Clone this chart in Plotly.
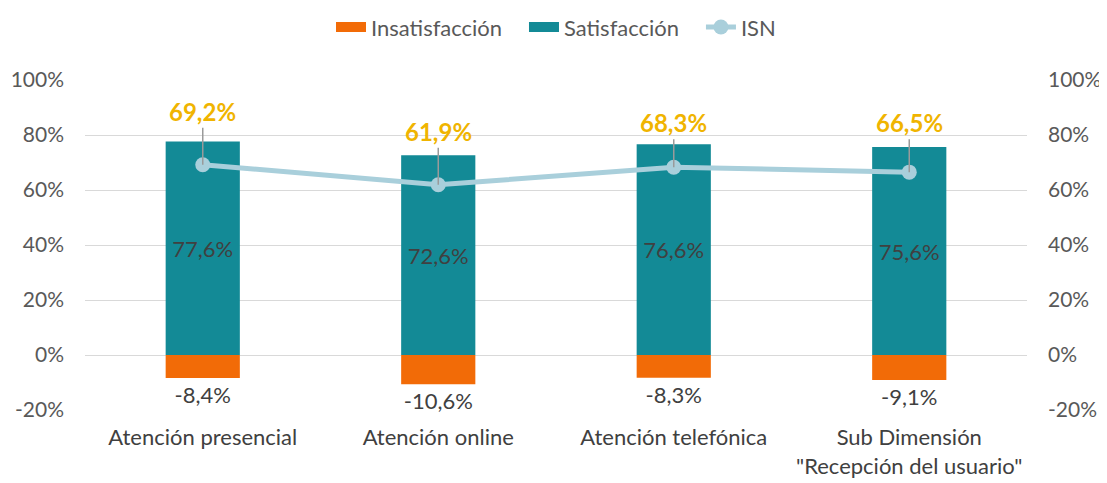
import plotly.graph_objects as go

categories = ["Atención presencial", "Atención online", "Atención telefónica",
              "Sub Dimensión<br>\"Recepción del usuario\""]
insatisfaccion = [-8.4, -10.6, -8.3, -9.1]
satisfaccion = [77.6, 72.6, 76.6, 75.6]
isn = [69.2, 61.9, 68.3, 66.5]
tick_vals = [-20, 0, 20, 40, 60, 80, 100]
tick_text = ["-20%", "0%", "20%", "40%", "60%", "80%", "100%"]

# label offsets (pixels) for ISN callouts
isn_label_offsets = [-37, -37, -28, -33]

FONT = "Lato"
ORANGE = "#F26B07"
TEAL = "#138A96"
LIGHT = "#A9CFDB"
GOLD = "#F0B400"
GREY_TXT = "#595959"
PAD = "\u00a0\u00a0\u00a0"

fig = go.Figure()
fig.add_trace(go.Bar(
    x=categories, y=insatisfaccion, name="Insatisfacción", showlegend=False,
    marker=dict(color=ORANGE, line=dict(width=0)), width=0.315,
    texttemplate="%{y:.1f}%", textposition="outside",
    textfont=dict(family=FONT, size=22, color="#404040"), cliponaxis=False,
))
fig.add_trace(go.Bar(
    x=categories, y=satisfaccion, name="Satisfacción", showlegend=False,
    marker=dict(color=TEAL, line=dict(width=0)), width=0.315,
    texttemplate="%{y:.1f}%", textposition="inside", insidetextanchor="middle",
    textfont=dict(family=FONT, size=22, color="#404040"),
))
fig.add_trace(go.Scatter(
    x=categories, y=isn, name="ISN", mode="lines+markers", showlegend=False,
    line=dict(color=LIGHT, width=5), marker=dict(color=LIGHT, size=15),
    yaxis="y2",
))
# legend entries
fig.add_trace(go.Scatter(x=[None], y=[None], name="Insatisfacción" + PAD, mode="lines",
                         line=dict(color=ORANGE, width=13)))
fig.add_trace(go.Scatter(x=[None], y=[None], name="Satisfacción" + PAD, mode="lines",
                         line=dict(color=TEAL, width=13)))
fig.add_trace(go.Scatter(x=[None], y=[None], name="ISN", mode="lines+markers",
                         line=dict(color=LIGHT, width=5), marker=dict(color=LIGHT, size=15)))

for c, v, off in zip(categories, isn, isn_label_offsets):
    fig.add_annotation(
        x=c, y=v, yref="y2", text=f"<b>{v:.1f}%</b>".replace(".", ","),
        showarrow=True, arrowhead=0, arrowwidth=1.5, arrowcolor="#9A9A9A",
        ax=0, ay=off, standoff=0, yanchor="bottom",
        font=dict(family=FONT, size=24, color=GOLD),
    )

axis_common = dict(range=[-20, 100], tickvals=tick_vals, ticktext=tick_text,
                   tickfont=dict(family=FONT, size=21, color=GREY_TXT),
                   zeroline=False, ticklabelstandoff=20)
fig.update_layout(
    width=1099, height=475,
    margin=dict(l=77, r=80, t=72, b=73, autoexpand=False),
    paper_bgcolor="white", plot_bgcolor="white",
    barmode="relative", separators=",.",
    showlegend=True,
    legend=dict(orientation="h", x=0.5, xanchor="center", y=1.16, yanchor="middle",
                font=dict(family=FONT, size=22, color=GREY_TXT),
                traceorder="normal"),
    xaxis=dict(tickfont=dict(family=FONT, size=22, color="#404040"),
               showgrid=False, ticklabelstandoff=12),
    yaxis=dict(showgrid=True, gridcolor="#D9D9D9", gridwidth=1, **axis_common),
    yaxis2=dict(overlaying="y", side="right", showgrid=False, **axis_common),
    font=dict(family=FONT),
)

fig.write_html("out.html")
